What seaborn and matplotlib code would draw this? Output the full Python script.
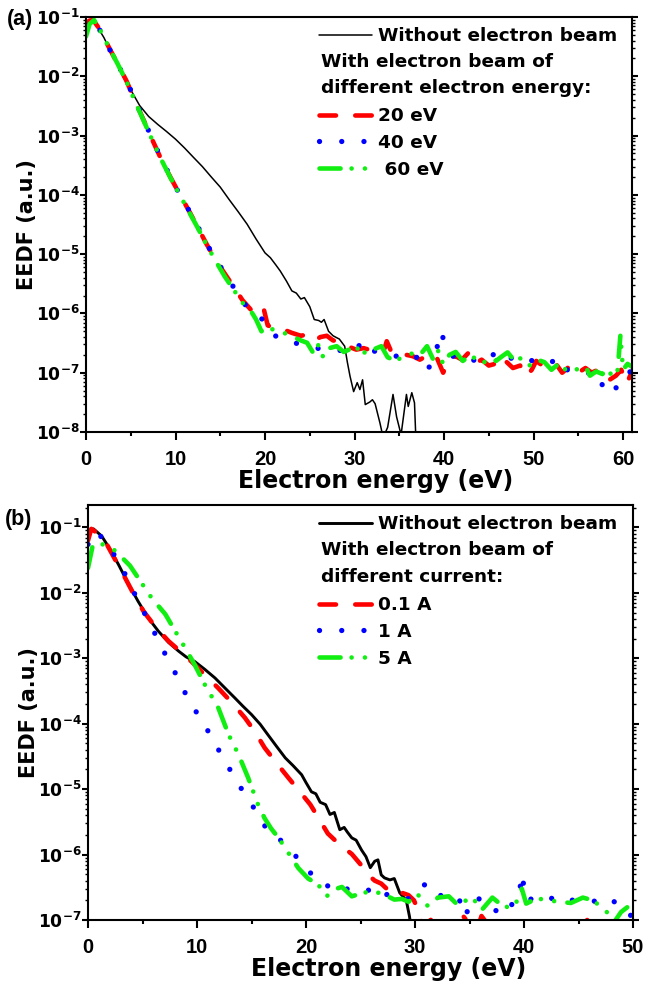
import numpy as np
import matplotlib
matplotlib.use('Agg')
import matplotlib.pyplot as plt
from matplotlib.ticker import LogLocator, MultipleLocator, NullFormatter
import seaborn as sns

# ---------------- panel (a): different electron energy ----------------
e_a_none = [0, 0.3, 0.6, 1.0, 1.5, 2.0, 3, 4, 5, 6,
            7, 8, 9, 10, 11, 12, 13, 14, 15, 16,
            17, 18, 19, 20, 20.6, 21.2, 21.7, 22.4, 23.0, 23.5,
            24.0, 24.4, 25.0, 25.5, 26.0, 26.3, 26.6, 27.1, 27.6, 28.0,
            28.3, 28.9, 29.2, 29.5, 29.9, 30.3, 30.6, 30.9, 31.2, 31.7,
            32.0, 32.3, 32.85, 33.2, 33.7, 34.3, 34.7, 35.2, 35.8, 36.0,
            36.4, 36.7, 36.9]
eedf_a_none = [7.9e-2, 8.7e-2, 8.9e-2, 7.9e-2, 6.0e-2, 4.5e-2, 2.2e-2, 1.07e-2, 5.9e-3, 3.2e-3,
               2.1e-3, 1.55e-3, 1.17e-3, 8.7e-4, 6.2e-4, 4.3e-4, 3.0e-4, 2.0e-4, 1.35e-4, 8.3e-5,
               5.2e-5, 3.2e-5, 1.8e-5, 1.05e-5, 8.7e-6, 6.6e-6, 5.2e-6, 3.5e-6, 2.4e-6, 2.2e-6,
               1.75e-6, 1.85e-6, 1.3e-6, 7.9e-7, 7.6e-7, 7.1e-7, 7.9e-7, 5.0e-7, 4.2e-7, 3.9e-7,
               3.7e-7, 2.8e-7, 1.5e-7, 8.7e-8, 4.8e-8, 6.8e-8, 5.2e-8, 7.6e-8, 2.9e-8, 3.2e-8,
               3.5e-8, 3.0e-8, 1.4e-8, 8e-9, 1.2e-8, 4.3e-8, 1.8e-8, 9e-9, 4.3e-8, 2.7e-8,
               4.6e-8, 3.1e-8, 5e-9]

e_a_20 = [0, 0.4, 0.8, 1.5, 2.5, 3.5, 4.5, 5.5, 6.5, 7.5,
          8.5, 9.5, 10.5, 11.5, 12.5, 13.5, 14.5, 15.5, 16.5, 17.5,
          18.5, 19.0, 19.5, 19.9, 20.3, 21.0, 22.0, 23.0, 24.0, 24.7,
          25.5, 26.2, 26.9, 27.6, 28.3, 29.2, 30.2, 31.0, 31.8, 32.6,
          33.3, 33.6, 34.2, 35.0, 35.8, 36.5, 37.3, 38.0, 38.4, 39.2,
          39.9, 40.6, 41.3, 42.0, 42.7, 43.4, 44.2, 45.0, 45.7, 46.3,
          47.0, 47.7, 48.5, 49.2, 49.8, 50.3, 51.0, 51.8, 52.5, 53.2,
          53.8, 54.5, 55.2, 55.8, 56.5, 57.2, 58.0, 58.5, 59.2, 59.8,
          60.4, 61.0]
eedf_a_20 = [7.9e-2, 8.7e-2, 8.9e-2, 6.3e-2, 3.2e-2, 1.66e-2, 8.5e-3, 3.8e-3, 1.74e-3, 7.9e-4,
             3.7e-4, 1.9e-4, 1.0e-4, 5.4e-5, 2.8e-5, 1.45e-5, 7.9e-6, 4.7e-6, 2.8e-6, 1.66e-6,
             1.12e-6, 1.0e-6, 8.9e-7, 1.12e-6, 6.3e-7, 5.6e-7, 5.4e-7, 4.7e-7, 4.2e-7, 4.4e-7,
             3.5e-7, 4.0e-7, 4.2e-7, 3.5e-7, 3.4e-7, 2.8e-7, 2.45e-7, 2.6e-7, 2.4e-7, 2.5e-7,
             2.4e-7, 3.4e-7, 2.1e-7, 2.14e-7, 2.0e-7, 1.9e-7, 1.66e-7, 1.9e-7, 2.14e-7, 1.78e-7,
             1.0e-7, 1.66e-7, 1.9e-7, 1.66e-7, 2.14e-7, 1.41e-7, 1.66e-7, 1.32e-7, 1.41e-7, 1.12e-7,
             1.51e-7, 1.2e-7, 1.32e-7, 8.7e-8, 1.12e-7, 1.58e-7, 1.32e-7, 1.2e-7, 1.41e-7, 1.0e-7,
             1.2e-7, 1.41e-7, 1.05e-7, 1.2e-7, 1.0e-7, 1.12e-7, 7.9e-8, 7.6e-8, 8.9e-8, 1.12e-7,
             6.5e-8, 1.05e-7]

e_a_40 = [0, 0.4, 0.9, 1.5, 2.5, 3.5, 4.5, 5.5, 6.5, 7.5,
          8.5, 9.5, 10.5, 11.5, 12.5, 13.5, 14.5, 15.5, 16.5, 17.5,
          18.5, 19.0, 19.5, 20.0, 20.6, 21.4, 22.2, 23.2, 24.1, 25.0,
          25.8, 26.5, 27.3, 28.0, 28.8, 29.5, 30.2, 30.8, 31.5, 32.5,
          33.5, 34.7, 35.5, 36.3, 37.2, 38.1, 38.9, 39.7, 40.2, 41.0,
          42.0, 43.0, 44.0, 45.0, 46.0, 46.8, 47.6, 48.4, 49.3, 50.2,
          51.2, 52.5, 53.0, 53.8, 54.6, 55.5, 56.5, 57.2, 57.8, 58.5,
          59.2, 59.8, 60.3, 61.0]
eedf_a_40 = [7.1e-2, 8.5e-2, 8.9e-2, 6.2e-2, 3.1e-2, 1.62e-2, 8.7e-3, 3.9e-3, 1.78e-3, 8.1e-4,
             3.8e-4, 1.95e-4, 9.8e-5, 5.5e-5, 2.9e-5, 1.48e-5, 8.1e-6, 4.8e-6, 2.75e-6, 1.58e-6,
             1.05e-6, 9.5e-7, 8.5e-7, 7.1e-7, 5.0e-7, 3.9e-7, 3.5e-7, 3.2e-7, 3.0e-7, 2.8e-7,
             2.6e-7, 2.45e-7, 2.35e-7, 2.35e-7, 2.4e-7, 2.6e-7, 2.4e-7, 3.4e-7, 2.5e-7, 2.24e-7,
             2.0e-7, 1.9e-7, 1.66e-7, 1.9e-7, 1.78e-7, 1.07e-7, 1.78e-7, 5.0e-7, 2.5e-7, 1.9e-7,
             1.58e-7, 1.7e-7, 1.48e-7, 1.9e-7, 2.14e-7, 1.58e-7, 1.78e-7, 1.48e-7, 1.58e-7, 1.62e-7,
             1.38e-7, 1.62e-7, 1.07e-7, 1.12e-7, 1.0e-7, 1.05e-7, 9.5e-8, 1.0e-7, 5.5e-8, 7.1e-8,
             5.5e-8, 7.9e-8, 1.0e-7, 1.05e-7]

e_a_60 = [0, 0.4, 0.9, 1.5, 2.5, 3.5, 4.5, 5.5, 6.5, 7.5,
          8.5, 9.5, 10.5, 11.5, 12.5, 13.5, 14.5, 15.5, 16.5, 17.5,
          18.5, 19.0, 19.6, 20.2, 21.0, 21.8, 22.5, 23.2, 24.0, 24.7,
          25.4, 26.0, 26.5, 27.2, 28.0, 28.8, 29.5, 30.2, 30.8, 31.5,
          32.2, 33.0, 33.7, 34.6, 35.5, 36.4, 37.2, 38.1, 38.8, 39.4,
          39.9, 40.6, 41.3, 42.1, 42.8, 43.6, 44.3, 45.0, 45.8, 46.5,
          47.1, 47.9, 48.8, 49.6, 50.4, 51.2, 52.0, 52.8, 53.6, 54.4,
          55.2, 55.9, 56.3, 57.0, 57.7, 58.3, 58.9, 59.4, 59.7, 60.0,
          60.5, 61.0]
eedf_a_60 = [4.7e-2, 7.6e-2, 8.9e-2, 6.3e-2, 3.2e-2, 1.66e-2, 8.3e-3, 3.7e-3, 1.7e-3, 7.8e-4,
             3.7e-4, 1.86e-4, 9.8e-5, 5.2e-5, 2.75e-5, 1.41e-5, 7.6e-6, 4.2e-6, 2.5e-6, 1.51e-6,
             1.05e-6, 7.9e-7, 5.0e-7, 5.4e-7, 5.4e-7, 4.8e-7, 4.5e-7, 4.0e-7, 3.5e-7, 3.2e-7,
             2.14e-7, 3.0e-7, 1.82e-7, 2.6e-7, 2.8e-7, 2.24e-7, 2.5e-7, 2.8e-7, 1.9e-7, 2.6e-7,
             2.5e-7, 2.8e-7, 1.82e-7, 1.58e-7, 1.9e-7, 2.1e-7, 1.9e-7, 2.8e-7, 1.66e-7, 2.4e-7,
             1.38e-7, 2.0e-7, 2.24e-7, 1.58e-7, 1.9e-7, 1.74e-7, 1.41e-7, 1.78e-7, 1.58e-7, 1.9e-7,
             2.2e-7, 1.58e-7, 1.82e-7, 1.32e-7, 1.66e-7, 1.51e-7, 1.12e-7, 1.41e-7, 1.12e-7, 1.26e-7,
             1.05e-7, 1.2e-7, 8.9e-8, 1.05e-7, 9.5e-8, 1.12e-7, 8.3e-8, 1.12e-7, 4.2e-7, 1.12e-7,
             1.41e-7, 1.26e-7]

# ---------------- panel (b): different beam current ----------------
e_b_none = [0, 0.5, 1.25, 2.0, 2.8, 3.7, 4.6, 5.5, 6.45, 7.4,
            8.3, 9.0, 9.8, 10.7, 11.65, 12.5, 13.5, 14.2, 15.0, 15.8,
            16.5, 17.3, 18.1, 18.8, 19.6, 20.0, 20.5, 20.9, 21.3, 21.8,
            22.2, 22.6, 23.1, 23.5, 23.8, 24.2, 24.6, 25.1, 25.5, 25.9,
            26.3, 26.6, 26.9, 27.2, 27.7, 28.1, 28.6, 29.2, 29.5, 29.7]
eedf_b_none = [8.3e-2, 9.5e-2, 7.4e-2, 4.7e-2, 2.7e-2, 1.38e-2, 7.4e-3, 4.2e-3, 2.6e-3, 1.74e-3,
               1.29e-3, 1.05e-3, 8.9e-4, 6.8e-4, 5.0e-4, 3.6e-4, 2.45e-4, 1.86e-4, 1.38e-4, 9.8e-5,
               6.8e-5, 4.5e-5, 3.0e-5, 2.3e-5, 1.66e-5, 1.26e-5, 9.1e-6, 8.5e-6, 6.3e-6, 5.8e-6,
               4.1e-6, 4.4e-6, 2.4e-6, 2.6e-6, 2.2e-6, 1.8e-6, 1.66e-6, 1.17e-6, 9.3e-7, 6.3e-7,
               7.9e-7, 8.3e-7, 4.9e-7, 4.4e-7, 4.1e-7, 4.3e-7, 2.6e-7, 2.0e-7, 1.12e-7, 6.3e-8]

e_b_01 = [0, 0.3, 0.8, 1.56, 2.5, 3.4, 4.2, 5.1, 6.2, 7.4,
          8.5, 9.5, 10.7, 11.95, 13.2, 14.4, 15.3, 16.2, 17.3, 18.4,
          19.4, 20.4, 21.2, 22.0, 23.1, 24.2, 25.0, 25.7, 26.3, 26.9,
          27.6, 28.3, 28.8, 29.4, 29.9, 30.3, 30.7, 31.2, 31.6, 32.0,
          32.5, 33.0, 33.6, 34.1, 34.6, 35.1, 35.7, 36.1, 36.6, 37.2,
          38.0, 38.8, 39.5, 40.2, 40.8, 41.6, 42.5, 43.3, 44.1, 44.6,
          45.2, 45.8, 46.3, 47.0, 47.8, 48.6, 49.4, 50.0]
eedf_b_01 = [6.3e-2, 9.5e-2, 8.3e-2, 6.2e-2, 3.2e-2, 1.7e-2, 9.5e-3, 5.2e-3, 3.0e-3, 1.82e-3,
             1.26e-3, 8.9e-4, 5.6e-4, 3.5e-4, 2.1e-4, 1.23e-4, 7.6e-5, 4.3e-5, 2.5e-5, 1.48e-5,
             9.3e-6, 5.8e-6, 3.5e-6, 2.1e-6, 1.41e-6, 1.02e-6, 7.1e-7, 4.9e-7, 4.0e-7, 3.6e-7,
             2.8e-7, 2.4e-7, 2.6e-7, 2.4e-7, 2.0e-7, 1.41e-7, 7.9e-8, 9.3e-8, 1.05e-7, 7.9e-8,
             8.9e-8, 7.1e-8, 8.9e-8, 1.35e-7, 1.05e-7, 6.3e-8, 7.1e-8, 1.15e-7, 8.9e-8, 6.3e-8,
             7.9e-8, 5.6e-8, 7.9e-8, 8.9e-8, 7.1e-8, 6.3e-8, 7.9e-8, 7.1e-8, 6.3e-8, 1.05e-7,
             7.9e-8, 1.0e-7, 7.1e-8, 6.3e-8, 7.9e-8, 6.3e-8, 7.6e-8, 6.3e-8]

e_b_1 = [0, 0.8, 2.0, 3.1, 4.0, 4.9, 5.85, 6.76, 7.7, 8.6,
         9.5, 10.6, 11.65, 12.6, 13.6, 14.6, 15.8, 16.5, 17.3, 18.1,
         19.1, 20.2, 20.9, 21.7, 22.2, 22.7, 23.4, 24.2, 24.9, 25.7,
         26.3, 27.0, 27.8, 28.6, 29.3, 30.2, 30.9, 31.8, 32.6, 33.5,
         34.0, 34.6, 35.2, 35.7, 36.6, 37.6, 38.2, 38.9, 39.5, 39.8,
         40.2, 41.2, 42.1, 42.8, 43.5, 44.2, 45.4, 46.3, 47.2, 48.2,
         49.0, 49.7, 50.0]
eedf_b_1 = [5.5e-2, 8.7e-2, 4.9e-2, 2.45e-2, 1.2e-2, 6.0e-3, 3.0e-3, 1.45e-3, 7.6e-4, 3.7e-4,
            1.95e-4, 1.02e-4, 5.0e-5, 2.6e-5, 1.38e-5, 7.2e-6, 3.8e-6, 2.2e-6, 1.9e-6, 1.41e-6,
            9.3e-7, 5.9e-7, 4.0e-7, 3.5e-7, 3.2e-7, 3.6e-7, 3.0e-7, 2.95e-7, 2.7e-7, 2.9e-7,
            2.2e-7, 2.4e-7, 2.5e-7, 2.3e-7, 2.1e-7, 2.4e-7, 3.5e-7, 2.3e-7, 2.4e-7, 2.45e-7,
            2.2e-7, 1.12e-7, 2.0e-7, 2.3e-7, 1.45e-7, 1.38e-7, 1.2e-7, 1.74e-7, 2.0e-7, 5.1e-7,
            2.0e-7, 2.2e-7, 2.4e-7, 2.0e-7, 2.2e-7, 2.0e-7, 2.05e-7, 2.0e-7, 1.66e-7, 1.95e-7,
            1.51e-7, 1.15e-7, 1.26e-7]

e_b_5 = [0, 0.4, 1.0, 1.5, 2.5, 3.85, 4.8, 5.85, 7.1, 8.0,
         8.9, 9.8, 10.7, 11.96, 12.9, 13.8, 14.7, 15.6, 16.2, 16.8,
         17.5, 18.4, 19.3, 20.2, 21.1, 21.9, 22.5, 23.3, 24.2, 24.9,
         25.7, 26.3, 26.9, 27.5, 28.1, 28.8, 29.4, 30.3, 31.2, 32.1,
         33.1, 33.8, 34.5, 35.2, 36.1, 37.1, 38.0, 38.9, 39.4, 39.8,
         40.2, 41.2, 42.2, 43.2, 44.3, 45.4, 46.3, 47.5, 48.2, 48.9,
         49.9]
eedf_b_5 = [2.4e-2, 5.0e-2, 5.5e-2, 5.5e-2, 4.4e-2, 2.6e-2, 1.51e-2, 8.3e-3, 4.7e-3, 2.6e-3,
            1.45e-3, 7.9e-4, 4.0e-4, 1.74e-4, 6.8e-5, 3.4e-5, 1.48e-5, 5.8e-6, 3.6e-6, 2.5e-6,
            1.78e-6, 1.05e-6, 6.2e-7, 4.3e-7, 3.5e-7, 2.3e-7, 2.9e-7, 3.2e-7, 2.3e-7, 2.5e-7,
            2.7e-7, 2.5e-7, 2.7e-7, 2.3e-7, 2.05e-7, 2.1e-7, 1.9e-7, 2.4e-7, 1.62e-7, 2.2e-7,
            2.3e-7, 1.78e-7, 1.9e-7, 2.3e-7, 1.41e-7, 2.2e-7, 1.66e-7, 1.51e-7, 2.0e-7, 3.0e-7,
            1.78e-7, 2.14e-7, 2.0e-7, 1.9e-7, 1.82e-7, 2.2e-7, 2.0e-7, 1.41e-7, 8.9e-8, 1.32e-7,
            1.78e-7]

labels_a = ['20 eV', '40 eV', ' 60 eV']
labels_b = ['0.1 A', '1 A', '5 A']
header_a = ['With electron beam of', 'different electron energy:']
header_b = ['With electron beam of', 'different current:']

sns.set_style('ticks')
plt.rcParams['font.family'] = ['DejaVu Sans']
plt.rcParams['font.weight'] = 'bold'
plt.rcParams['axes.labelweight'] = 'bold'
plt.rcParams['mathtext.fontset'] = 'dejavusans'
plt.rcParams['mathtext.default'] = 'bf'
plt.rcParams['axes.edgecolor'] = 'black'
plt.rcParams['axes.linewidth'] = 1.5
plt.rcParams['xtick.color'] = 'black'
plt.rcParams['ytick.color'] = 'black'
plt.rcParams['text.color'] = 'black'
plt.rcParams['axes.labelcolor'] = 'black'

RED, BLUE, GREEN = '#ff0000', '#0000ff', '#11ee11'
style_red = dict(color=RED, lw=3.3, linestyle=(0, (3.6, 4.2)), dash_capstyle='round')
style_blue = dict(color=BLUE, lw=3.8, linestyle=(0, (0.01, 4.2)), dash_capstyle='round')
style_green = dict(color=GREEN, lw=3.3, linestyle=(0, (4.6, 2.4, 0.01, 2.9, 0.01, 2.9)),
                   dash_capstyle='round')

W, H = 645, 990
fig = plt.figure(figsize=(W / 100, H / 100), dpi=100)


def fx(px):
    return px / W


def fy(py):
    return 1 - py / H


def draw_panel(ax, e_none, v_none, lw_none, series, xmax, ylims):
    sns.lineplot(x=e_none, y=v_none, ax=ax, color='black', lw=lw_none,
                 estimator=None, sort=False, legend=False)
    lines = [ax.get_lines()[-1]]
    for (e, v), st in zip(series, [style_red, style_blue, style_green]):
        sns.lineplot(x=e, y=v, ax=ax, estimator=None, sort=False, legend=False, **st)
        lines.append(ax.get_lines()[-1])
    ax.set_yscale('log')
    ax.set_xlim(0, xmax)
    ax.set_ylim(*ylims)
    ax.xaxis.set_major_locator(MultipleLocator(10))
    ax.xaxis.set_minor_locator(MultipleLocator(5))
    ax.yaxis.set_major_locator(LogLocator(base=10, numticks=20))
    ax.yaxis.set_minor_locator(LogLocator(base=10, subs=np.arange(2, 10), numticks=20))
    ax.yaxis.set_minor_formatter(NullFormatter())
    ax.tick_params(axis='x', which='major', direction='out', length=6, width=1.5,
                   labelsize=14.5, labelfontfamily='Liberation Sans', pad=7)
    ax.tick_params(axis='x', which='minor', direction='out', length=3, width=1.5)
    ax.tick_params(axis='y', which='major', direction='out', length=4, width=1.5,
                   labelsize=12.3, pad=0.5, right=True)
    ax.tick_params(axis='y', which='minor', direction='out', length=2.5, width=1, right=True)
    ax.set_xlabel('Electron energy (eV)', fontsize=17)
    ax.set_ylabel('EEDF (a.u.)', fontsize=15)
    return lines


def draw_legend(ax, lines, names, header, rows):
    prop = dict(weight='bold', size=13.3)
    kw = dict(loc='upper left', bbox_transform=fig.transFigure, frameon=False,
              borderpad=0, borderaxespad=0, handlelength=2.85, handletextpad=0.35,
              labelspacing=0.48, prop=prop)
    leg1 = ax.legend(handles=lines[:1], labels=['Without electron beam'],
                     bbox_to_anchor=(fx(319), fy(rows[0] - 8)), **kw)
    ax.add_artist(leg1)
    for txt, r in zip(header, rows[1:3]):
        fig.text(fx(321), fy(r), txt, ha='left', va='center', fontsize=13.3)
    ax.legend(handles=lines[1:], labels=names,
              bbox_to_anchor=(fx(319), fy(rows[3] - 8)), **kw)


# panel (a)
ax1 = fig.add_axes([fx(86), fy(432), (632 - 86) / W, (432 - 17) / H])
lines_a = draw_panel(ax1, e_a_none, eedf_a_none, 1.1,
                     [(e_a_20, eedf_a_20), (e_a_40, eedf_a_40), (e_a_60, eedf_a_60)],
                     61, (1e-8, 1e-1))
ax1.xaxis.set_label_coords(0.531, -0.089)
ax1.yaxis.set_label_coords(-0.09, 0.5)
draw_legend(ax1, lines_a, labels_a, header_a, [35, 62, 88, 115, 142, 168])
fig.text(fx(7), fy(9), '(a)', ha='left', va='top', fontsize=15.5, family='Liberation Sans')

# panel (b)
ax2 = fig.add_axes([fx(88), fy(920), (633 - 88) / W, (920 - 505) / H])
lines_b = draw_panel(ax2, e_b_none, eedf_b_none, 2.1,
                     [(e_b_01, eedf_b_01), (e_b_1, eedf_b_1), (e_b_5, eedf_b_5)],
                     50, (1e-7, 2.2e-1))
ax2.xaxis.set_label_coords(0.552, -0.089)
ax2.yaxis.set_label_coords(-0.09, 0.5)
draw_legend(ax2, lines_b, labels_b, header_b, [523, 550, 577, 604, 631, 657])
fig.text(fx(5), fy(509), '(b)', ha='left', va='top', fontsize=15.5, family='Liberation Sans')

fig.savefig('out.png', dpi=100)
